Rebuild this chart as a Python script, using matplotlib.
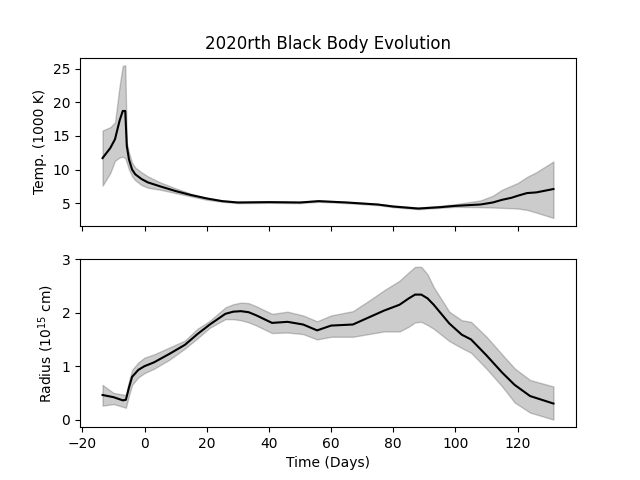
import numpy as np
import matplotlib
matplotlib.use('Agg')
import matplotlib.pyplot as plt

# temperature (1000 K): epoch, median, lower, upper
t_days = [-13.5, -11, -9.5, -8, -7, -6.2, -5.7, -5, -4, -3, -1, 1, 5, 10, 15, 20, 25,
          30, 40, 50, 56, 65, 75, 80, 88, 95, 100, 108, 112, 115, 118, 120, 123, 126, 131.5]
temp = [11.7, 13.2, 14.5, 17.3, 18.7, 18.7, 13.5, 11.5, 10.0, 9.3, 8.6, 8.1, 7.5, 6.8, 6.2, 5.7, 5.3,
        5.1, 5.15, 5.1, 5.3, 5.1, 4.8, 4.5, 4.2, 4.4, 4.6, 4.8, 5.1, 5.5, 5.8, 6.1, 6.5, 6.6, 7.1]
temp_lo = [7.6, 9.5, 11.3, 11.8, 11.9, 11.7, 11.0, 10.0, 9.0, 8.4, 7.7, 7.3, 7.0, 6.5, 6.0, 5.5, 5.2,
           5.0, 5.05, 5.0, 5.2, 5.0, 4.7, 4.4, 4.1, 4.3, 4.45, 4.4, 4.35, 4.3, 4.25, 4.2, 4.0, 3.6, 2.8]
temp_hi = [15.8, 16.3, 17.0, 22.5, 25.4, 25.5, 14.0, 12.5, 11.0, 10.3, 9.6, 9.0, 8.1, 7.2, 6.4, 5.8, 5.4,
           5.2, 5.3, 5.2, 5.4, 5.2, 4.9, 4.65, 4.35, 4.6, 4.85, 5.4, 6.1, 7.0, 7.6, 8.0, 8.9, 9.6, 11.2]

# radius (1e15 cm)
r_days = [-13.5, -10, -7, -6, -5, -4, -2, 0, 3, 8, 13, 17, 21, 26, 28.5, 31, 33.5, 36, 41, 46, 51, 55.5,
          60, 67, 72, 77, 82, 85, 87, 89, 91, 93, 98, 102, 105, 110, 115, 119, 124, 131.5]
rad = [0.46, 0.42, 0.36, 0.37, 0.60, 0.80, 0.93, 1.00, 1.07, 1.23, 1.40, 1.60, 1.78, 1.98, 2.02, 2.03, 2.01,
       1.95, 1.81, 1.83, 1.78, 1.67, 1.76, 1.78, 1.91, 2.04, 2.15, 2.27, 2.34, 2.34, 2.27, 2.15, 1.80, 1.59,
       1.50, 1.20, 0.88, 0.65, 0.44, 0.30]
rad_lo = [0.26, 0.29, 0.24, 0.22, 0.45, 0.65, 0.79, 0.87, 0.95, 1.12, 1.33, 1.52, 1.72, 1.88, 1.88, 1.86,
          1.82, 1.76, 1.62, 1.63, 1.60, 1.50, 1.55, 1.55, 1.60, 1.65, 1.65, 1.74, 1.82, 1.83, 1.77, 1.70,
          1.47, 1.34, 1.25, 0.95, 0.62, 0.32, 0.13, 0.00]
rad_hi = [0.65, 0.50, 0.47, 0.46, 0.72, 0.93, 1.07, 1.16, 1.22, 1.35, 1.48, 1.70, 1.85, 2.10, 2.16, 2.19,
          2.18, 2.12, 1.98, 2.02, 1.95, 1.84, 1.95, 2.03, 2.22, 2.42, 2.60, 2.76, 2.86, 2.86, 2.72, 2.48,
          2.02, 1.86, 1.83, 1.55, 1.22, 0.96, 0.74, 0.62]

fig, (ax1, ax2) = plt.subplots(2, 1, sharex=True, figsize=(6.4, 4.8), dpi=100)

ax1.fill_between(t_days, temp_lo, temp_hi, color='k', alpha=0.2)
ax1.plot(t_days, temp, color='k')
ax1.set_ylabel('Temp. (1000 K)')
ax1.set_title('2020rth Black Body Evolution')

ax2.fill_between(r_days, rad_lo, rad_hi, color='k', alpha=0.2)
ax2.plot(r_days, rad, color='k')
ax2.set_ylabel('Radius (10$^{15}$ cm)')
ax2.set_xlabel('Time (Days)')

plt.savefig('out.png')
